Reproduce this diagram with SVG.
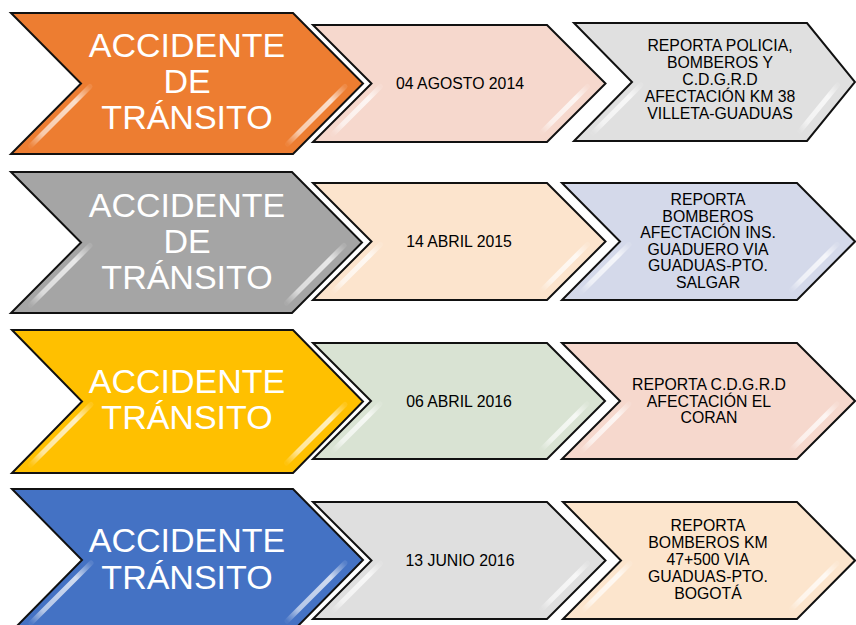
<svg xmlns="http://www.w3.org/2000/svg" width="856" height="625" viewBox="0 0 856 625">
<defs>
<linearGradient id="hlg" x1="1" y1="0" x2="0" y2="1">
<stop offset="0" stop-color="#fff" stop-opacity="0.1"/>
<stop offset="0.25" stop-color="#fff" stop-opacity="0.75"/>
<stop offset="0.8" stop-color="#fff" stop-opacity="0.6"/>
<stop offset="1" stop-color="#fff" stop-opacity="0.05"/>
</linearGradient>
</defs>
<style>
.ch{stroke:#111;stroke-width:2;stroke-linejoin:miter}
.hl{stroke:url(#hlg);stroke-width:5;stroke-linecap:round;fill:none}
.big{font-family:"Liberation Sans",Arial,sans-serif;font-size:34px;fill:#fff;text-anchor:middle}
.sm{font-family:"Liberation Sans",Arial,sans-serif;font-size:15.8px;fill:#000;text-anchor:middle}
</style>
<rect width="856" height="625" fill="#fff"/>

<!-- Row 1 -->
<g id="r1-main">
<polygon class="ch" fill="#ED7D31" points="11,13 293,13 363,83.5 293,154 11,154 81,83.5"/>
<line class="hl" x1="90" y1="86.5" x2="30.5" y2="146"/>
<line class="hl" x1="345" y1="86.5" x2="287.5" y2="144"/>
<text class="big" x="187" y="57">ACCIDENTE</text>
<text class="big" x="187" y="93">DE</text>
<text class="big" x="187" y="129">TRÁNSITO</text>
</g>
<g id="r1-date">
<polygon class="ch" fill="#F6D8CD" points="313,25 547,25 605.5,83.5 547,142 313,142 371.5,83.5"/>
<line class="hl" x1="380.5" y1="86.5" x2="333" y2="134"/>
<line class="hl" x1="587.5" y1="86.5" x2="542" y2="132"/>
<text class="sm" x="460" y="89">04 AGOSTO 2014</text>
</g>
<g id="r1-info">
<polygon class="ch" fill="#E0E0E0" points="574,23 807,23 855,82 807,141 574,141 632,82"/>
<line class="hl" x1="641" y1="85" x2="593" y2="133"/>
<line class="hl" x1="837.6" y1="85" x2="800" y2="131"/>
<text class="sm" x="720" y="51">REPORTA POLICIA,</text>
<text class="sm" x="720" y="68">BOMBEROS Y</text>
<text class="sm" x="720" y="85">C.D.G.R.D</text>
<text class="sm" x="720" y="102">AFECTACIÓN KM 38</text>
<text class="sm" x="720" y="119">VILLETA-GUADUAS</text>
</g>

<!-- Row 2 -->
<g id="r2-main">
<polygon class="ch" fill="#A5A5A5" points="11,172 292,172 362,242.5 292,313 11,313 81,242.5"/>
<line class="hl" x1="90" y1="245.5" x2="30.5" y2="305"/>
<line class="hl" x1="344" y1="245.5" x2="286.5" y2="303"/>
<text class="big" x="187" y="217">ACCIDENTE</text>
<text class="big" x="187" y="253">DE</text>
<text class="big" x="187" y="289">TRÁNSITO</text>
</g>
<g id="r2-date">
<polygon class="ch" fill="#FCE4CD" points="313,183 547,183 605.5,241.5 547,300 313,300 371.5,241.5"/>
<line class="hl" x1="380.5" y1="244.5" x2="333" y2="292"/>
<line class="hl" x1="587.5" y1="244.5" x2="542" y2="290"/>
<text class="sm" x="459" y="247">14 ABRIL 2015</text>
</g>
<g id="r2-info">
<polygon class="ch" fill="#D4D9EA" points="562,183 797,183 855,241.5 797,300 562,300 620,241.5"/>
<line class="hl" x1="629" y1="244.5" x2="581.5" y2="292"/>
<line class="hl" x1="837" y1="244.5" x2="791.5" y2="290"/>
<text class="sm" x="708" y="205">REPORTA</text>
<text class="sm" x="708" y="221.5">BOMBEROS</text>
<text class="sm" x="708" y="238">AFECTACIÓN INS.</text>
<text class="sm" x="708" y="254.5">GUADUERO VIA</text>
<text class="sm" x="708" y="271">GUADUAS-PTO.</text>
<text class="sm" x="708" y="287.5">SALGAR</text>
</g>

<!-- Row 3 -->
<g id="r3-main">
<polygon class="ch" fill="#FFC000" points="12,330 293,330 363,401.5 293,473 12,473 82,401.5"/>
<line class="hl" x1="91" y1="404.5" x2="30.5" y2="465"/>
<line class="hl" x1="345" y1="404.5" x2="286.5" y2="463"/>
<text class="big" x="187" y="393">ACCIDENTE</text>
<text class="big" x="187" y="429">TRÁNSITO</text>
</g>
<g id="r3-date">
<polygon class="ch" fill="#D9E3D3" points="313,343 547,343 605,401 547,459 313,459 371,401"/>
<line class="hl" x1="380" y1="404" x2="333" y2="451"/>
<line class="hl" x1="587" y1="404" x2="542" y2="449"/>
<text class="sm" x="459" y="406.5">06 ABRIL 2016</text>
</g>
<g id="r3-info">
<polygon class="ch" fill="#F6D8CD" points="562,343 797,343 855,401 797,459 562,459 620,401"/>
<line class="hl" x1="629" y1="404" x2="582" y2="451"/>
<line class="hl" x1="837" y1="404" x2="792" y2="449"/>
<text class="sm" x="709" y="390">REPORTA C.D.G.R.D</text>
<text class="sm" x="709" y="406.5">AFECTACIÓN EL</text>
<text class="sm" x="709" y="423">CORAN</text>
</g>

<!-- Row 4 -->
<g id="r4-main">
<polygon class="ch" fill="#4472C4" points="12,489 293,489 363,560 293,631 12,631 82,560"/>
<line class="hl" x1="91" y1="563" x2="31" y2="623"/>
<line class="hl" x1="345" y1="563" x2="287" y2="621"/>
<text class="big" x="187" y="552">ACCIDENTE</text>
<text class="big" x="187" y="589">TRÁNSITO</text>
</g>
<g id="r4-date">
<polygon class="ch" fill="#DFDFDF" points="313,502 547,502 605.5,560.5 547,619 313,619 371.5,560.5"/>
<line class="hl" x1="380.5" y1="563.5" x2="333" y2="611"/>
<line class="hl" x1="587.5" y1="563.5" x2="542" y2="609"/>
<text class="sm" x="460" y="566">13 JUNIO 2016</text>
</g>
<g id="r4-info">
<polygon class="ch" fill="#FCE5CD" points="563,502 797,502 855,560.5 797,619 563,619 621,560.5"/>
<line class="hl" x1="630" y1="563.5" x2="582.5" y2="611"/>
<line class="hl" x1="837" y1="563.5" x2="791.5" y2="609"/>
<text class="sm" x="708" y="531">REPORTA</text>
<text class="sm" x="708" y="548">BOMBEROS KM</text>
<text class="sm" x="708" y="565">47+500 VIA</text>
<text class="sm" x="708" y="582">GUADUAS-PTO.</text>
<text class="sm" x="708" y="599">BOGOTÁ</text>
</g>

<g id="connectors"></g>
</svg>
